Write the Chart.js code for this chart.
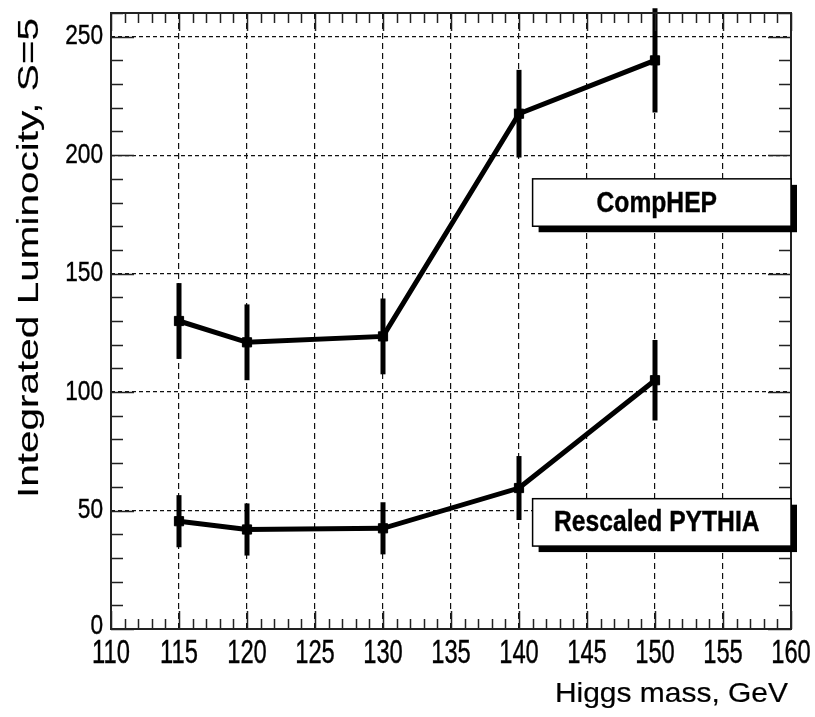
<!DOCTYPE html>
<html>
<head>
<meta charset="utf-8">
<title>Integrated Luminocity vs Higgs mass</title>
<script src="https://cdn.jsdelivr.net/npm/chart.js@4.4.1/dist/chart.umd.min.js"></script>
<style>
  html, body { margin: 0; padding: 0; background: #fff; }
  canvas { display: block; }
</style>
</head>
<body>
<canvas id="lumiChart" width="815" height="717"></canvas>
<script>
// Higgs masses, GeV
const masses = [115, 120, 130, 140, 150];
// integrated luminosity for S=5 and its errors
const compHEP = [130, 121, 123.5, 217.5, 240];
const compHEPErr = [16, 16, 16, 18.5, 22];
const pythia = [45.5, 42, 42.5, 59.5, 105];
const pythiaErr = [11, 11, 11, 13.5, 17];

// axis labels
const xTicks = [110, 115, 120, 125, 130, 135, 140, 145, 150, 155, 160];
const yTicks = [0, 50, 100, 150, 200, 250];

// legend boxes (in data units)
const boxNames = ["CompHEP", "Rescaled PYTHIA"];
const boxX = [141, 160];
const boxY = [[170, 190], [35, 55]];

const FONT = '"Liberation Sans", Arial, sans-serif';

function toPoints(ys) {
  return masses.map((m, i) => ({ x: m, y: ys[i] }));
}

// text with a squeeze factor, the old ROOT fonts look narrow
function drawText(ctx, text, x, y, size, sx, sy, align, baseline, bold, weight) {
  ctx.save();
  ctx.translate(x, y);
  ctx.scale(sx, sy);
  ctx.font = (bold ? "bold " : "") + size + "px " + FONT;
  ctx.fillStyle = "#000";
  ctx.textAlign = align;
  ctx.textBaseline = baseline;
  ctx.fillText(text, 0, 0);
  if (weight) {
    ctx.strokeStyle = "#000";
    ctx.lineWidth = weight;
    ctx.strokeText(text, 0, 0);
  }
  ctx.restore();
}

// error bars for both series
const errorBars = {
  id: "errorBars",
  afterDatasetsDraw(chart) {
    const ctx = chart.ctx;
    const xs = chart.scales.x, ys = chart.scales.y;
    const sets = [[compHEP, compHEPErr], [pythia, pythiaErr]];
    ctx.save();
    ctx.strokeStyle = "#000";
    ctx.lineWidth = 5;
    sets.forEach(([vals, errs]) => {
      vals.forEach((v, i) => {
        const px = xs.getPixelForValue(masses[i]);
        ctx.beginPath();
        ctx.moveTo(px, ys.getPixelForValue(v - errs[i]));
        ctx.lineTo(px, ys.getPixelForValue(v + errs[i]));
        ctx.stroke();
      });
    });
    ctx.restore();
  }
};

// frame, inward ticks, labels and boxes
const rootFrame = {
  id: "rootFrame",
  afterDraw(chart) {
    const ctx = chart.ctx;
    const a = chart.chartArea;
    const xs = chart.scales.x, ys = chart.scales.y;

    ctx.save();
    ctx.strokeStyle = "#222";
    ctx.lineWidth = 1.5;
    ctx.beginPath();
    // x ticks every 1 GeV, bottom and top
    for (let v = 110; v <= 160; v++) {
      const px = Math.round(xs.getPixelForValue(v)) + 0.5;
      const len = v % 5 === 0 ? 18 : 10;
      ctx.moveTo(px, a.bottom);
      ctx.lineTo(px, a.bottom - len);
      ctx.moveTo(px, a.top);
      ctx.lineTo(px, a.top + len);
    }
    // y ticks every 10, left and right
    for (let v = 0; v <= 260; v += 10) {
      const py = Math.round(ys.getPixelForValue(v)) + 0.5;
      const len = v % 50 === 0 ? 23 : 12;
      ctx.moveTo(a.left, py);
      ctx.lineTo(a.left + len, py);
      ctx.moveTo(a.right, py);
      ctx.lineTo(a.right - len, py);
    }
    ctx.stroke();

    ctx.lineWidth = 2;
    ctx.strokeRect(a.left, a.top, a.right - a.left, a.bottom - a.top);
    ctx.restore();

    // legend boxes with shadow
    boxNames.forEach((name, i) => {
      const x0 = xs.getPixelForValue(boxX[0]);
      const x1 = xs.getPixelForValue(boxX[1]);
      const y0 = ys.getPixelForValue(boxY[i][1]);
      const y1 = ys.getPixelForValue(boxY[i][0]);
      ctx.save();
      ctx.fillStyle = "#000";
      ctx.fillRect(x0 + 6, y0 + 6, x1 - x0, y1 - y0);
      ctx.fillStyle = "#fff";
      ctx.fillRect(x0, y0, x1 - x0, y1 - y0);
      ctx.strokeStyle = "#000";
      ctx.lineWidth = 1.5;
      ctx.strokeRect(x0, y0, x1 - x0, y1 - y0);
      ctx.restore();
      drawText(ctx, name, (x0 + x1) / 2 - 5, (y0 + y1) / 2 + 1, 29, 0.85, 1, "center", "middle", true, 0.4);
    });

    // tick labels
    xTicks.forEach(v => {
      drawText(ctx, String(v), xs.getPixelForValue(v), 663, 33, 0.72, 1, "center", "alphabetic", false, 0.4);
    });
    yTicks.forEach(v => {
      const py = ys.getPixelForValue(v) - (v === 0 ? 3 : 0);
      drawText(ctx, String(v), 103, py, 28, 0.81, 1, "right", "middle", false, 0.4);
    });

    // axis titles
    drawText(ctx, "Higgs mass, GeV", 788, 702, 28, 1.07, 1, "right", "alphabetic", false, 0.2);
    ctx.save();
    ctx.translate(38, 498);
    ctx.rotate(-Math.PI / 2);
    drawText(ctx, "Integrated Luminocity, S=5", 0, 0, 40.5, 1, 0.72, "left", "alphabetic", false, 0.2);
    ctx.restore();
  }
};

function gridColor(step, lo, hi) {
  return c => {
    const v = c.tick.value;
    if (v === lo || v === hi || v % step !== 0) return "rgba(0,0,0,0)";
    return "#111";
  };
}

new Chart(document.getElementById("lumiChart"), {
  type: "line",
  data: {
    datasets: [
      {
        label: "CompHEP",
        data: toPoints(compHEP),
        borderColor: "#000",
        backgroundColor: "#000",
        borderWidth: 5,
        pointStyle: "rect",
        pointRadius: 6.5,
        pointBorderWidth: 1
      },
      {
        label: "Rescaled PYTHIA",
        data: toPoints(pythia),
        borderColor: "#000",
        backgroundColor: "#000",
        borderWidth: 5,
        pointStyle: "rect",
        pointRadius: 6.5,
        pointBorderWidth: 1
      }
    ]
  },
  options: {
    responsive: false,
    animation: false,
    layout: { padding: { left: 111, right: 24, top: 13, bottom: 88 } },
    plugins: {
      legend: { display: false },
      tooltip: { enabled: false }
    },
    scales: {
      x: {
        type: "linear",
        min: 110,
        max: 160,
        ticks: { display: false, stepSize: 5 },
        grid: { drawTicks: false, lineWidth: 1.2, color: gridColor(5, 110, 160) },
        border: { display: false, dash: [6, 4] }
      },
      y: {
        type: "linear",
        min: 0,
        max: 260,
        ticks: { display: false, stepSize: 50 },
        grid: { drawTicks: false, lineWidth: 1.2, color: gridColor(50, 0, 260) },
        border: { display: false, dash: [4, 3] }
      }
    }
  },
  plugins: [errorBars, rootFrame]
});
</script>
</body>
</html>
